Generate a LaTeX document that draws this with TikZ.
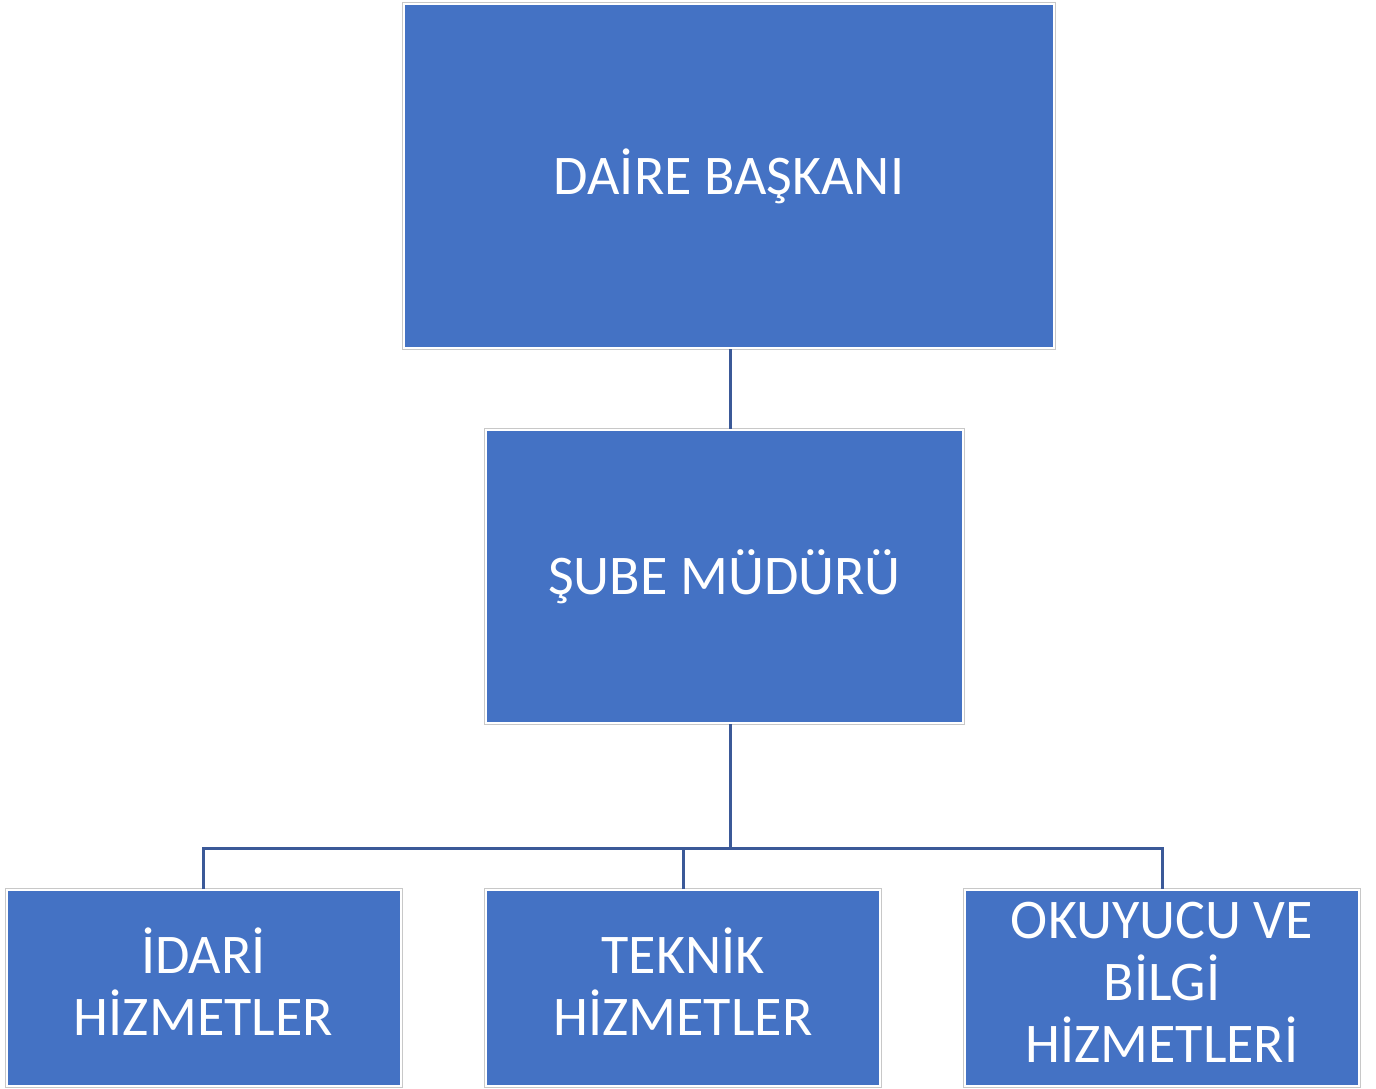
\documentclass[tikz,border=0pt]{standalone}
\usepackage{fontspec}
\setmainfont{Carlito}
\definecolor{boxblue}{HTML}{4472C4}
\definecolor{linkblue}{RGB}{59,89,152}
\definecolor{framegray}{HTML}{C8C8C8}
\tikzset{
	unit/.style={fill=boxblue, draw=white, line width=1pt, text=white,
		preaction={draw=framegray, line width=2pt},
		font=\fontsize{28pt}{31pt}\selectfont, align=center, inner sep=0pt},
	leaf/.style={unit, minimum width=197pt, minimum height=98pt,
		execute at end node={\rule[-6pt]{0pt}{6pt}}},
	link/.style={draw=linkblue, line width=1.5pt}
}
\begin{document}
\begin{tikzpicture}[x=0.5pt,y=-0.5pt]
\useasboundingbox (0,0) rectangle (1376,1088);
\node[unit, minimum width=325pt, minimum height=172pt] (daire) at (729,176) {DAİRE BAŞKANI};
\node[unit, minimum width=238.5pt, minimum height=146.5pt] (sube) at (724.5,576.5) {ŞUBE MÜDÜRÜ};
\node[leaf] (idari) at (203.5,988) {İDARİ\\HİZMETLER};
\node[leaf] (teknik) at (683,988) {TEKNİK\\HİZMETLER};
\node[leaf] (okuyucu) at (1162,988) {OKUYUCU VE\\BİLGİ\\HİZMETLERİ};
\coordinate (bus) at (730,848);
\draw[link] (daire.south -| bus) -- (sube.north -| bus);
\draw[link] (sube.south -| bus) -- (bus);
\draw[link] (idari.north) |- (bus) -| (okuyucu.north);
\draw[link] (teknik.north) -- (teknik.north |- bus);
\end{tikzpicture}
\end{document}
